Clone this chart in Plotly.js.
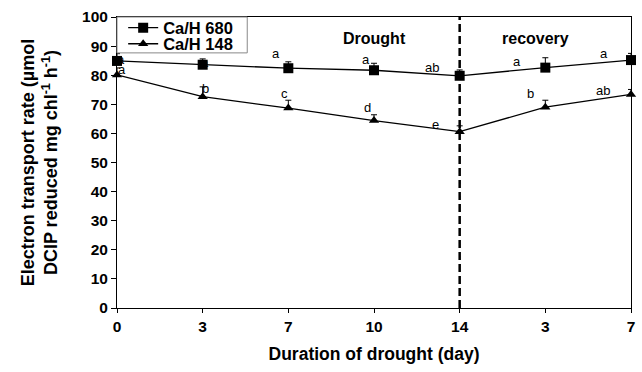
<!DOCTYPE html>
<html><head><meta charset="utf-8">
<script src="https://cdn.plot.ly/plotly-3.0.1.min.js"></script>
<style>body{margin:0;background:#fff}#chart{width:642px;height:372px}</style>
</head><body><div id="chart"></div>
<script>
const tickLabels = ['0','3','7','10','14','3','7'];
const xIdx = [0,1,2,3,4,5,6];
const ca680 = [84.9, 83.6, 82.4, 81.7, 79.8, 82.6, 85.2];
const ca680Err = [2.5, 2.0, 2.2, 2.4, 2.0, 3.4, 2.3];
const ca148 = [80.1, 72.6, 68.7, 64.4, 60.6, 69.0, 73.4];
const ca148Err = [2.4, 3.4, 2.7, 2.0, 2.0, 2.4, 1.7];
const letters680 = ['a','a','a','a','ab','a','a'];
const letters148 = ['a','b','c','d','e','b','ab'];

const font = 'Liberation Sans, Arial, sans-serif';
const zeros = xIdx.map(()=>0);

const traces = [
  {x: xIdx, y: ca680, name: 'Ca/H 680', mode: 'lines+markers', type: 'scatter', legend: 'legend',
   line: {color: '#000', width: 1.3}, marker: {symbol: 'square', size: 10, color: '#000'},
   error_y: {type: 'data', symmetric: false, array: ca680Err, arrayminus: zeros, color: '#000', thickness: 1, width: 3},
   cliponaxis: false},
  {x: xIdx, y: ca148, name: 'Ca/H 148', mode: 'lines+markers', type: 'scatter', legend: 'legend2',
   line: {color: '#000', width: 1.3}, marker: {symbol: 'triangle-up', size: 9, color: '#000'},
   error_y: {type: 'data', symmetric: false, array: ca148Err, arrayminus: zeros, color: '#000', thickness: 1, width: 3},
   cliponaxis: false}
];

// letter offsets (pixels) relative to point+error
const sh680 = [[4,-6],[2,-4],[-12,8],[-8,4],[-28,2],[-28,-4],[-27,0]];
const sh148 = [[5,-2],[3,-2],[-4,7],[-7,7],[-24,1],[-15,7],[-28,-1]];
const annotations = [];
xIdx.forEach((xi,i)=>{
  annotations.push({x: xi, y: ca680[i]+ca680Err[i], text: letters680[i], showarrow: false,
    xshift: sh680[i][0], yshift: sh680[i][1], font: {family: font, size: 13, color: '#000'}});
  annotations.push({x: xi, y: ca148[i]+ca148Err[i], text: letters148[i], showarrow: false,
    xshift: sh148[i][0], yshift: sh148[i][1], font: {family: font, size: 13, color: '#000'}});
});
annotations.push({x: 3, y: 92.5, text: '<b>Drought</b>', showarrow: false, xshift: 0,
  font: {family: font, size: 16, color: '#000'}});
annotations.push({x: 5, y: 92.5, text: '<b>recovery</b>', showarrow: false, xshift: -10,
  font: {family: font, size: 16, color: '#000'}});

const legFont = {family: font, size: 16.5, color: '#000', weight: 'bold'};
const layout = {
  width: 642, height: 372,
  margin: {l: 117, r: 11, t: 16, b: 64},
  paper_bgcolor: '#fff', plot_bgcolor: '#fff',
  showlegend: true,
  legend: {x: 0.012, y: 0.959, xanchor: 'left', yanchor: 'middle', bgcolor: 'rgba(255,255,255,0)',
    borderwidth: 0, font: legFont, itemwidth: 30},
  legend2: {x: 0.012, y: 0.904, xanchor: 'left', yanchor: 'middle', bgcolor: 'rgba(255,255,255,0)',
    borderwidth: 0, font: legFont, itemwidth: 30},
  xaxis: {range: [0, 6], tickvals: xIdx, ticktext: tickLabels, showgrid: false, zeroline: false,
    showline: true, linecolor: '#000', linewidth: 1, mirror: true,
    ticks: 'outside', ticklen: 4, tickcolor: '#000',
    tickfont: {family: font, size: 15.5, color: '#000', weight: 'bold'},
    title: {text: '<b>Duration of drought (day)</b>', font: {family: font, size: 17.5, color: '#000'}, standoff: 14}},
  yaxis: {range: [0, 100], dtick: 10, showgrid: false, zeroline: false,
    showline: true, linecolor: '#000', linewidth: 1, mirror: true,
    ticks: 'outside', ticklen: 5, tickcolor: '#000',
    tickfont: {family: font, size: 15.5, color: '#000', weight: 'bold'},
    title: {text: '<b>Electron transport rate (µmol<br>DCIP reduced mg chl<sup>-1</sup> h<sup>-1</sup>)</b>',
      font: {family: font, size: 18, color: '#000'}, standoff: 19}},
  shapes: [
    {type: 'line', xref: 'x', yref: 'paper', x0: 4, x1: 4, y0: 0, y1: 1,
     line: {color: '#000', width: 2.5, dash: '8px,4px'}},
    {type: 'rect', xref: 'paper', yref: 'paper', x0: 0, x1: 0.2534, y0: 0.8767, y1: 1,
     line: {color: '#888', width: 1}, fillcolor: 'rgba(0,0,0,0)'}
  ],
  annotations: annotations
};
Plotly.newPlot('chart', traces, layout, {displayModeBar: false, staticPlot: true});
</script></body></html>
